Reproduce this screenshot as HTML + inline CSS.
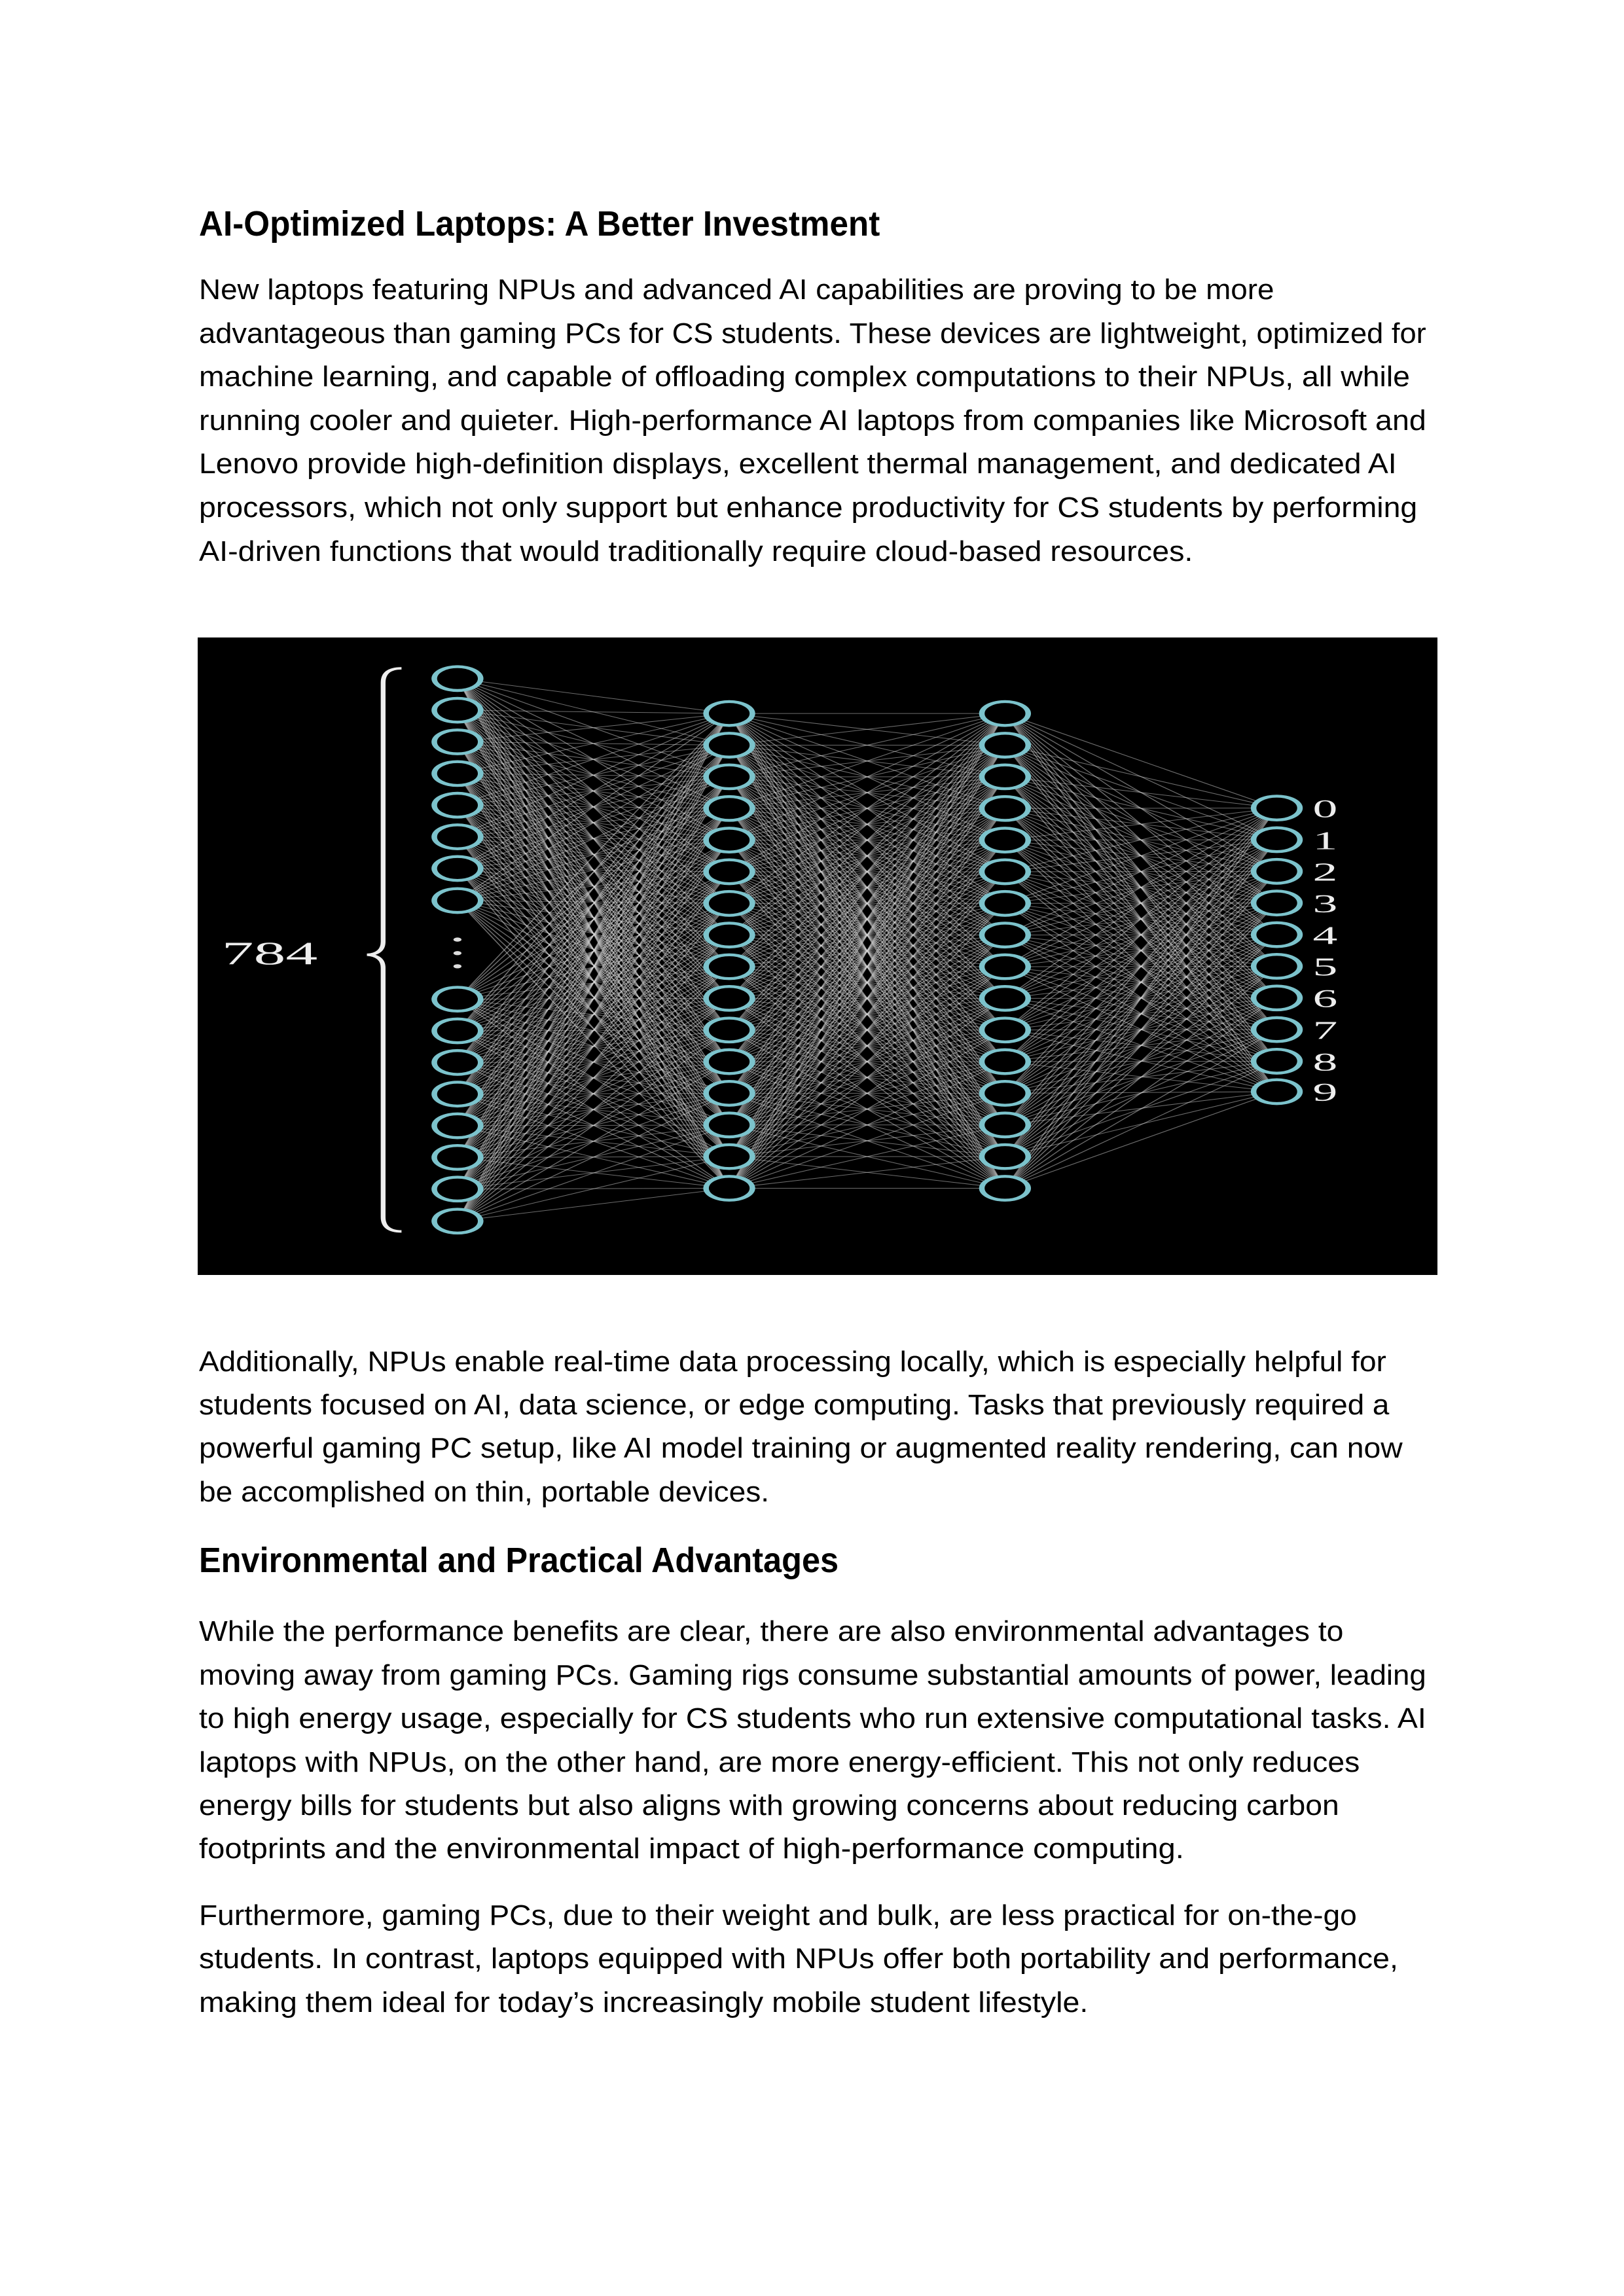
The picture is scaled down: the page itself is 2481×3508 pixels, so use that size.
<!DOCTYPE html>
<html><head><meta charset="utf-8"><style>
html,body{margin:0;padding:0;background:#fff}
body{width:2481px;height:3508px;position:relative;overflow:hidden;font-family:"Liberation Sans",sans-serif;color:#000}
.ln{position:absolute;left:304px;white-space:nowrap;font-size:44px;line-height:44px;transform-origin:0 50%}
.h{font-weight:bold;font-size:54px;line-height:54px}
#nn{position:absolute;left:302px;top:974px;width:1894px;height:974px;background:#000}
</style></head><body>
<div class="ln h" data-c="342" data-r="596">AI-Optimized Laptops: A Better Investment</div>
<div class="ln" data-c="443" data-r="863">New laptops featuring NPUs and advanced AI capabilities are proving to be more</div>
<div class="ln" data-c="510" data-r="966">advantageous than gaming PCs for CS students. These devices are lightweight, optimized for</div>
<div class="ln" data-c="576" data-r="955">machine learning, and capable of offloading complex computations to their NPUs, all while</div>
<div class="ln" data-c="643" data-r="966">running cooler and quieter. High-performance AI laptops from companies like Microsoft and</div>
<div class="ln" data-c="709" data-r="946">Lenovo provide high-definition displays, excellent thermal management, and dedicated AI</div>
<div class="ln" data-c="776" data-r="960">processors, which not only support but enhance productivity for CS students by performing</div>
<div class="ln" data-c="843" data-r="808">AI-driven functions that would traditionally require cloud-based resources.</div>

<svg id="nn" viewBox="0 0 1551 1551" preserveAspectRatio="none"><g id="edges"></g><g id="nodes"></g>
<path d="M255 75 Q232 75 232 110 L232 740 Q232 770 212 772 Q232 774 232 804 L232 1410 Q232 1445 255 1445" fill="none" stroke="#eee" stroke-width="6"/>
<text x="90" y="795" fill="#eee" font-family="Liberation Serif,serif" font-size="80" text-anchor="middle">784</text>
<g fill="#ddd"><circle cx="325" cy="735" r="5"/><circle cx="325" cy="768" r="5"/><circle cx="325" cy="800" r="5"/></g>
<g id="outlabels"></g>
</svg>

<div class="ln" data-c="2081" data-r="939">Additionally, NPUs enable real-time data processing locally, which is especially helpful for</div>
<div class="ln" data-c="2147" data-r="941">students focused on AI, data science, or edge computing. Tasks that previously required a</div>
<div class="ln" data-c="2213" data-r="950">powerful gaming PC setup, like AI model training or augmented reality rendering, can now</div>
<div class="ln" data-c="2280" data-r="521">be accomplished on thin, portable devices.</div>
<div class="ln h" data-c="2384" data-r="568">Environmental and Practical Advantages</div>
<div class="ln" data-c="2493" data-r="910">While the performance benefits are clear, there are also environmental advantages to</div>
<div class="ln" data-c="2560" data-r="966">moving away from gaming PCs. Gaming rigs consume substantial amounts of power, leading</div>
<div class="ln" data-c="2626" data-r="966">to high energy usage, especially for CS students who run extensive computational tasks. AI</div>
<div class="ln" data-c="2693" data-r="921">laptops with NPUs, on the other hand, are more energy-efficient. This not only reduces</div>
<div class="ln" data-c="2759" data-r="907">energy bills for students but also aligns with growing concerns about reducing carbon</div>
<div class="ln" data-c="2825" data-r="802">footprints and the environmental impact of high-performance computing.</div>
<div class="ln" data-c="2927" data-r="919">Furthermore, gaming PCs, due to their weight and bulk, are less practical for on-the-go</div>
<div class="ln" data-c="2993" data-r="947">students. In contrast, laptops equipped with NPUs offer both portability and performance,</div>
<div class="ln" data-c="3060" data-r="737">making them ideal for today’s increasingly mobile student lifestyle.</div>
<script>
var layerX=[325,665,1010,1350];
var inputY=[100,177,254,331,408,485,562,640,880,957,1034,1111,1188,1265,1342,1420];
var hiddenY=[185,262,339,416,493,570,647,724,801,878,955,1032,1109,1186,1263,1340];
var outputY=[415,492,569,646,723,800,877,954,1031,1105];
var outLabels=['0','1','2','3','4','5','6','7','8','9'];
var layers=[inputY,hiddenY,hiddenY,outputY];
var NS='http://www.w3.org/2000/svg';
var eg=document.getElementById('edges'),ng=document.getElementById('nodes'),lg=document.getElementById('outlabels');
for(var l=0;l<3;l++){for(var i=0;i<layers[l].length;i++){for(var j=0;j<layers[l+1].length;j++){
var ln=document.createElementNS(NS,'line');


ln.setAttribute('x1',layerX[l]);ln.setAttribute('y1',layers[l][i]);ln.setAttribute('x2',layerX[l+1]);ln.setAttribute('y2',layers[l+1][j]);
ln.setAttribute('stroke','#d8d8d8');ln.setAttribute('stroke-opacity','0.5');ln.setAttribute('stroke-width','1.6');eg.appendChild(ln);}}}
for(var l=0;l<4;l++){for(var i=0;i<layers[l].length;i++){
var c=document.createElementNS(NS,'circle');


c.setAttribute('cx',layerX[l]);c.setAttribute('cy',layers[l][i]);c.setAttribute('r','29');
c.setAttribute('fill','#000');c.setAttribute('stroke','#7cc3cc');c.setAttribute('stroke-width','7');ng.appendChild(c);}}
for(var i=0;i<outLabels.length;i++){
var t=document.createElementNS(NS,'text');


t.setAttribute('x',1395);t.setAttribute('y',outputY[i]+22);t.setAttribute('fill','#eee');
t.setAttribute('font-family','Liberation Serif,serif');t.setAttribute('font-size','62');t.textContent=outLabels[i];lg.appendChild(t);}
var K=2481/1100;
document.querySelectorAll('.ln').forEach(function(e){
var fs=parseFloat(getComputedStyle(e).fontSize);
e.style.top=(parseFloat(e.dataset.c)-fs/2)+'px';
var target=parseFloat(e.dataset.r)*K-304;
var w=e.getBoundingClientRect().width;
e.style.transform='scaleX('+(target/w)+')';
});
</script>
</body></html>
